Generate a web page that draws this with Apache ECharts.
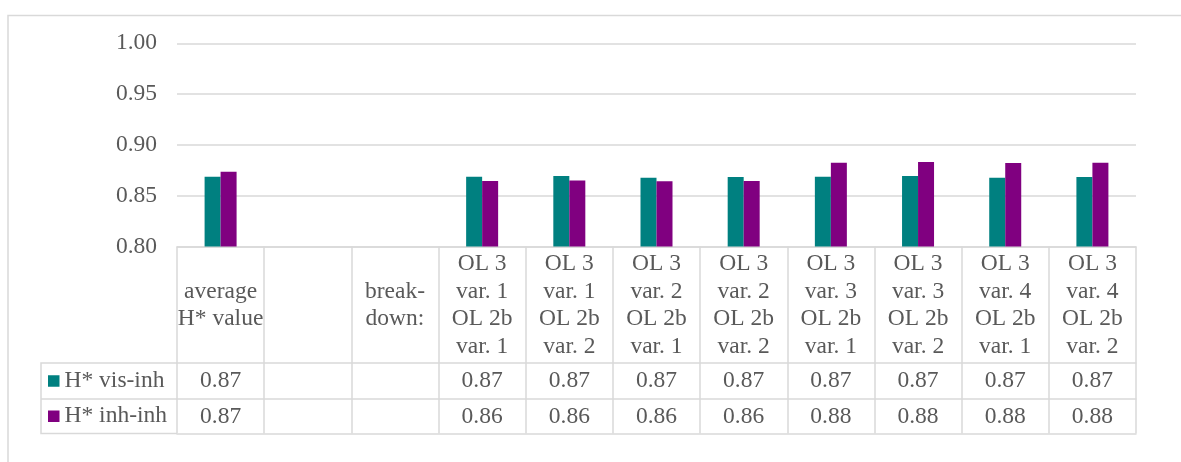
<!DOCTYPE html>
<html>
<head>
<meta charset="utf-8">
<title>H* values</title>
<script src="https://cdn.jsdelivr.net/npm/echarts@6/dist/echarts.min.js"></script>
<style>
  html, body { margin: 0; padding: 0; background: #ffffff; }
  #chart { width: 1181px; height: 462px; }
</style>
</head>
<body>
<div id="chart"></div>
<script>
// Category labels (header row of the data table)
const categories = [
  'average\nH* value',
  '',
  'break-\ndown:',
  'OL 3\nvar. 1\nOL 2b\nvar. 1',
  'OL 3\nvar. 1\nOL 2b\nvar. 2',
  'OL 3\nvar. 2\nOL 2b\nvar. 1',
  'OL 3\nvar. 2\nOL 2b\nvar. 2',
  'OL 3\nvar. 3\nOL 2b\nvar. 1',
  'OL 3\nvar. 3\nOL 2b\nvar. 2',
  'OL 3\nvar. 4\nOL 2b\nvar. 1',
  'OL 3\nvar. 4\nOL 2b\nvar. 2'
];

// Series values
const visInh = [0.8687, null, null, 0.8687, 0.8694, 0.8677, 0.8684, 0.8687, 0.8694, 0.8677, 0.8684];
const inhInh = [0.8736, null, null, 0.8645, 0.8649, 0.8642, 0.8645, 0.8825, 0.8832, 0.8822, 0.8825];

const seriesNames = ['H* vis-inh', 'H* inh-inh'];

// Value axis ticks
const yTicks = [0.80, 0.85, 0.90, 0.95, 1.00];

// Layout
const GRID_LEFT = 177;
const GRID_RIGHT_X = 1136;
const PLOT_TOP = 43.3;
const AXIS_Y = 246.5;
const HEADER_H = 116.5;
const ROW2_H = 36;
const ROW3_H = 34.5;
const LEG_LEFT = 41;

const FONT = 'Liberation Serif';
const FONT_SIZE = 23.5;
const TEXT_COLOR = '#595959';
const LINE_COLOR = '#d9d9d9';
const LINE_W = 1.5;
const COLORS = ['#008080', '#800080'];

const chart = echarts.init(document.getElementById('chart'), null, { renderer: 'canvas' });

function tableAxis(offset, tickLen, formatter, margin) {
  return {
    type: 'category',
    gridIndex: 0,
    position: 'bottom',
    offset: offset,
    data: categories,
    boundaryGap: true,
    axisLine: { show: true, lineStyle: { color: LINE_COLOR, width: LINE_W } },
    axisTick: {
      show: tickLen > 0,
      interval: 0,
      alignWithLabel: false,
      length: tickLen,
      lineStyle: { color: LINE_COLOR, width: LINE_W }
    },
    axisLabel: {
      show: !!formatter,
      interval: 0,
      margin: margin || 0,
      verticalAlign: 'middle',
      color: TEXT_COLOR,
      fontFamily: FONT,
      fontSize: FONT_SIZE,
      lineHeight: 27.7,
      formatter: formatter || undefined
    },
    splitLine: { show: false }
  };
}

const fmt = (arr) => (value, index) => (arr[index] == null ? '' : arr[index].toFixed(2));

const row2Top = AXIS_Y + HEADER_H;
const row3Top = row2Top + ROW2_H;
const tableBottom = row3Top + ROW3_H;

function legendFor(name, top) {
  return {
    data: [name],
    left: 48,
    top: top,
    padding: 0,
    icon: 'rect',
    itemWidth: 11.5,
    itemHeight: 11.5,
    selectedMode: false,
    textStyle: { color: TEXT_COLOR, fontFamily: FONT, fontSize: FONT_SIZE, lineHeight: 24 }
  };
}

const option = {
  animation: false,
  backgroundColor: '#ffffff',
  grid: {
    left: GRID_LEFT,
    right: 1181 - GRID_RIGHT_X,
    top: PLOT_TOP,
    bottom: 462 - AXIS_Y
  },
  legend: [
    legendFor(seriesNames[0], (row2Top + row3Top) / 2 - 12),
    legendFor(seriesNames[1], (row3Top + tableBottom) / 2 - 12)
  ],
  xAxis: [
    tableAxis(0, HEADER_H, (v) => v, HEADER_H / 2 + 0.5),
    tableAxis(HEADER_H, ROW2_H, fmt(visInh), ROW2_H / 2),
    tableAxis(HEADER_H + ROW2_H, ROW3_H, fmt(inhInh), ROW3_H / 2 + 0.5),
    tableAxis(HEADER_H + ROW2_H + ROW3_H, 0, null, 0)
  ],
  yAxis: {
    type: 'value',
    min: yTicks[0],
    max: yTicks[yTicks.length - 1],
    interval: 0.05,
    axisLine: { show: false },
    axisTick: { show: false },
    axisLabel: {
      margin: 20,
      color: TEXT_COLOR,
      fontFamily: FONT,
      fontSize: FONT_SIZE,
      formatter: (v) => v.toFixed(2)
    },
    splitLine: { show: true, lineStyle: { color: LINE_COLOR, width: LINE_W } }
  },
  series: [
    {
      name: seriesNames[0],
      type: 'bar',
      xAxisIndex: 0,
      data: visInh,
      barWidth: 16,
      barGap: '0%',
      itemStyle: { color: COLORS[0] }
    },
    {
      name: seriesNames[1],
      type: 'bar',
      xAxisIndex: 0,
      data: inhInh,
      barWidth: 16,
      barGap: '0%',
      itemStyle: { color: COLORS[1] }
    }
  ],
  graphic: [
    // chart area frame
    {
      type: 'rect',
      silent: true,
      shape: { x: 8, y: 15.5, width: 1400, height: 700 },
      style: { fill: 'none', stroke: LINE_COLOR, lineWidth: LINE_W }
    },
    // legend-key column of the data table
    {
      type: 'polyline',
      silent: true,
      shape: {
        points: [
          [GRID_LEFT, row2Top],
          [LEG_LEFT, row2Top],
          [LEG_LEFT, tableBottom],
          [GRID_LEFT, tableBottom]
        ]
      },
      style: { fill: 'none', stroke: LINE_COLOR, lineWidth: LINE_W }
    },
    {
      type: 'line',
      silent: true,
      shape: { x1: LEG_LEFT, y1: row3Top, x2: GRID_LEFT, y2: row3Top },
      style: { stroke: LINE_COLOR, lineWidth: LINE_W }
    }
  ]
};

chart.setOption(option);
</script>
</body>
</html>
